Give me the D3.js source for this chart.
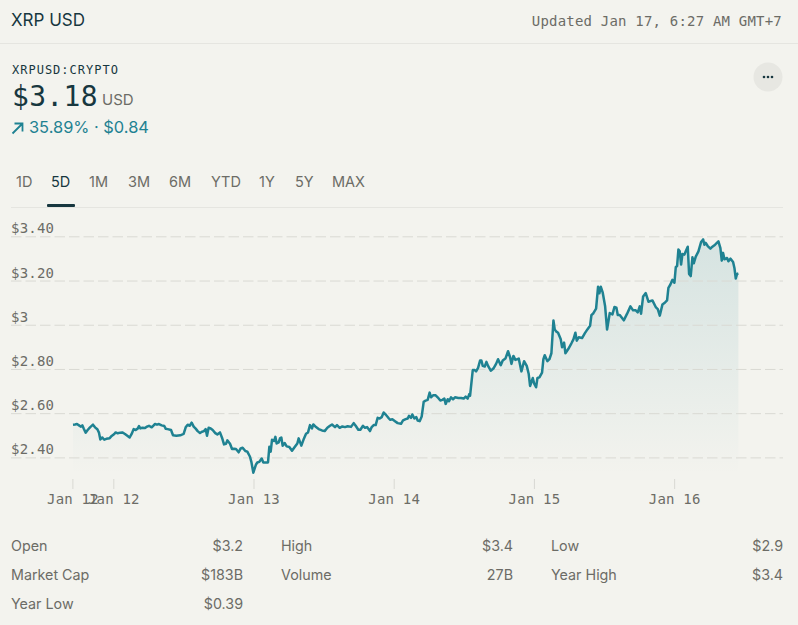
<!DOCTYPE html>
<html><head><meta charset="utf-8">
<script src="https://cdn.jsdelivr.net/npm/d3@7"></script>
<style>html,body{margin:0;padding:0;background:#f3f3ee;overflow:hidden}svg{display:block}
.sans{font-family:Inter,"Noto Sans",sans-serif}.mono{font-family:"DejaVu Sans Mono",monospace}</style>
</head><body><div id="c"></div>
<script>
const hours=[-6.90,-6.56,-6.22,-5.87,-5.53,-5.30,-5.07,-4.73,-4.39,-3.99,-3.48,-3.13,-2.73,-2.45,-2.22,-1.88,-1.54,-1.19,-0.62,-0.28,0.17,0.40,0.75,1.20,1.54,2.00,2.46,2.80,3.14,3.48,3.83,4.17,4.40,4.63,4.97,5.42,5.77,6.11,6.57,6.91,7.14,7.48,7.82,8.28,8.73,8.96,9.30,9.88,10.22,10.79,11.47,12.04,12.39,12.73,13.07,13.41,13.76,14.10,14.44,
14.84,15.18,15.52,15.81,16.04,16.32,16.67,17.01,17.46,17.81,18.26,18.61,18.95,19.29,19.52,19.98,20.32,20.66,21.00,21.46,21.80,22.14,22.60,22.94,23.40,23.63,23.97,24.43,24.65,25.0,25.4,25.68,26.48,26.71,26.94,27.17,27.51,27.74,27.96,28.31,28.53,28.76,28.99,29.33,29.68,30.13,30.59,31.05,31.50,31.73,32.19,32.64,32.99,33.33,33.67,34.01,34.24,34.70,35.15,35.72,36.18,36.64,37.09,37.44,
37.95,38.29,38.75,39.21,39.66,40.12,40.69,41.15,41.49,41.94,42.29,42.74,43.09,43.43,43.94,44.23,44.57,44.91,45.25,45.60,45.94,46.28,46.62,47.08,47.42,47.76,48.22,48.68,49.25,49.59,50.05,50.39,50.62,50.96,51.19,51.53,51.87,52.10,52.44,52.79,53.13,53.47,53.81,54.15,54.38,54.73,55.18,55.52,55.98,56.32,56.67,56.89,57.24,57.47,57.81,58.15,58.49,59.06,59.52,59.98,60.32,60.66,60.95,
61.07,61.53,61.87,62.10,62.44,62.78,63.01,63.24,63.58,63.87,64.15,64.61,65.06,65.52,65.86,66.32,66.66,67.12,67.57,67.92,68.15,68.49,68.83,69.40,69.86,70.31,70.77,71.11,71.34,71.80,72.03,72.37,72.60,72.94,73.39,73.62,73.85,74.31,74.65,74.99,75.34,75.56,75.79,76.13,76.59,76.82,77.16,77.39,77.85,78.42,78.76,79.10,79.33,79.67,80.24,80.70,81.15,81.61,81.84,82.18,82.64,82.98,83.21,83.44,83.78,
84.18,84.52,84.98,85.44,85.78,86.12,86.35,86.69,87.38,87.95,88.52,88.97,89.43,89.77,90.11,90.34,90.69,91.14,91.60,92.28,92.85,93.20,93.54,94.0,94.45,94.79,95.02,95.36,95.71,96.05,96.28,96.51,96.73,96.96,97.19,97.42,97.76,97.99,98.33,98.56,98.84,99.13,99.36,99.70,100.16,100.61,100.96,101.18,101.41,101.75,102.21,102.55,103.01,103.58,103.92,104.15,104.38,104.61,105.06,105.29,105.63,106.09,106.32,106.55,106.77,107.0];
const prices=[2.548,2.549,2.551,2.545,2.539,2.545,2.531,2.512,2.524,2.536,2.548,2.536,2.527,2.512,2.481,2.490,2.480,2.484,2.487,2.497,2.506,2.513,2.509,2.512,2.513,2.506,2.497,2.490,2.506,2.528,2.524,2.530,2.542,2.531,2.534,2.533,2.539,2.543,2.536,2.545,2.551,2.548,2.551,2.545,2.542,2.530,2.528,2.524,2.500,2.498,2.500,2.506,2.536,2.548,2.543,2.557,2.539,2.530,2.519,
2.510,2.516,2.519,2.528,2.498,2.534,2.531,2.524,2.510,2.504,2.513,2.489,2.459,2.462,2.477,2.462,2.438,2.439,2.438,2.423,2.441,2.444,2.429,2.426,2.403,2.380,2.331,2.368,2.377,2.380,2.395,2.377,2.377,2.448,2.426,2.480,2.474,2.493,2.463,2.468,2.486,2.490,2.453,2.465,2.450,2.447,2.430,2.447,2.463,2.486,2.453,2.486,2.507,2.513,2.546,2.531,2.549,2.537,2.528,2.522,2.519,2.534,2.543,2.549,
2.537,2.546,2.534,2.540,2.537,2.541,2.538,2.555,2.543,2.525,2.525,2.543,2.534,2.537,2.519,2.537,2.546,2.546,2.579,2.576,2.582,2.603,2.594,2.579,2.570,2.573,2.564,2.555,2.552,2.567,2.573,2.576,2.588,2.579,2.594,2.576,2.582,2.567,2.564,2.585,2.651,2.657,2.660,2.693,2.672,2.681,2.681,2.672,2.657,2.660,2.666,2.642,2.663,2.654,2.672,2.663,2.672,2.669,2.669,2.666,2.675,2.666,2.687,
2.679,2.795,2.795,2.789,2.805,2.838,2.838,2.814,2.811,2.832,2.814,2.792,2.802,2.823,2.844,2.817,2.838,2.847,2.880,2.853,2.823,2.859,2.841,2.847,2.789,2.835,2.814,2.777,2.723,2.759,2.735,2.717,2.759,2.762,2.783,2.844,2.862,2.835,2.844,2.871,3.019,2.979,2.970,2.964,2.934,2.898,2.919,2.871,2.889,2.916,2.934,2.964,2.928,2.943,2.940,2.961,2.979,2.995,3.043,3.052,3.073,3.172,3.142,3.172,3.145,
3.085,2.978,3.053,3.047,3.080,3.077,3.044,3.044,3.020,3.050,3.083,3.065,3.065,3.056,3.083,3.050,3.128,3.143,3.104,3.110,3.080,3.071,3.041,3.092,3.101,3.110,3.167,3.182,3.203,3.190,3.260,3.266,3.340,3.332,3.272,3.320,3.317,3.332,3.353,3.230,3.220,3.305,3.278,3.308,3.332,3.374,3.386,3.362,3.370,3.356,3.344,3.353,3.362,3.377,3.347,3.290,3.325,3.296,3.302,3.287,3.299,3.284,3.257,3.209,3.230,3.232];
const yTickValues=[3.4,3.2,3.0,2.8,2.6,2.4];
const yTickLabels=["$3.40","$3.20","$3","$2.80","$2.60","$2.40"];
const xTickHours=[-7,0,24,48,72,96];
const xTickLabels=["Jan 12","Jan 12","Jan 13","Jan 14","Jan 15","Jan 16"];
const ranges=["1D","5D","1M","3M","6M","YTD","1Y","5Y","MAX"];
const rangeX=[16,51,89,128,169,211,259,295,332];
const statRows=[["Open","$3.2","High","$3.4","Low","$2.9"],["Market Cap","$183B","Volume","27B","Year High","$3.4"],["Year Low","$0.39"]];

const W=798,H=625,dark="#17373f",grey="#6c6c66",teal="#1f8292";
const svg=d3.select("#c").append("svg").attr("width",W).attr("height",H).attr("viewBox",`0 0 ${W} ${H}`);
const T=(x,y,s,size,fill,cls,anchor,ls,weight)=>svg.append("text").attr("x",x).attr("y",y).text(s).attr("class",cls||"sans")
  .attr("font-size",size).attr("fill",fill).attr("text-anchor",anchor||"start").attr("letter-spacing",ls||0).attr("font-weight",weight||400);

T(11,26,"XRP USD",17,dark);
T(782,26,"Updated Jan 17, 6:27 AM GMT+7",14,grey,"mono","end",0.2);
svg.append("rect").attr("x",0).attr("y",43).attr("width",W).attr("height",1).attr("fill","#e5e5e0");
T(12,74,"XRPUSD:CRYPTO",12,dark,"mono","start",1);
T(12,106,"$3.18",28,dark,"mono","start",0.3);
T(102,105,"USD",15,grey);
svg.append("path").attr("d","M12.5 133.5L22 124M14.5 123.5H22.5V131.5").attr("fill","none").attr("stroke",teal).attr("stroke-width",1.8);
T(29,133,"35.89% · $0.84",16.4,teal);
const bx=768,by=77;
svg.append("circle").attr("cx",bx).attr("cy",by).attr("r",14.5).attr("fill","#e7e7e2");
[-4,0,4].forEach(d=>svg.append("circle").attr("cx",bx+d).attr("cy",by).attr("r",1.3).attr("fill",dark));
ranges.forEach((r,i)=>T(rangeX[i],187,r,14.5,i===1?dark:grey));
svg.append("rect").attr("x",11).attr("y",207).attr("width",772).attr("height",1).attr("fill","#e5e5e0");
svg.append("rect").attr("x",47).attr("y",204).attr("width",28).attr("height",3).attr("rx",1).attr("fill",dark);

const x=d3.scaleLinear().domain([0,107]).range([113.3,738.4]);
const y=d3.scaleLinear().domain([2.4,3.4]).range([457.4,236.3]);
const data=hours.map((h,i)=>({h,p:prices[i]}));

const grad=svg.append("defs").append("linearGradient").attr("id","g").attr("gradientUnits","userSpaceOnUse")
  .attr("x1",0).attr("x2",0).attr("y1",236).attr("y2",475);
grad.append("stop").attr("offset",0).attr("stop-color",teal).attr("stop-opacity",0.14);
grad.append("stop").attr("offset",1).attr("stop-color",teal).attr("stop-opacity",0);
svg.append("path").datum(data).attr("fill","url(#g)")
  .attr("d",d3.area().x(d=>x(d.h)).y0(475).y1(d=>y(d.p)));

const gy=svg.append("g").call(d3.axisRight(y).tickValues(yTickValues).tickFormat((d,i)=>yTickLabels[i]).tickSize(772));
gy.attr("transform","translate(11,0)");
gy.select(".domain").remove();
gy.selectAll(".tick line").attr("stroke","#d9d9d3").attr("stroke-width",1).attr("stroke-dasharray","10.5 4");
gy.selectAll(".tick text").attr("x",0).attr("dy",-3.5).attr("text-anchor","start").attr("class","mono")
  .attr("font-size",14).attr("fill",grey).attr("letter-spacing",0.2).attr("font-family",null);

svg.append("path").datum(data).attr("fill","none").attr("stroke",teal).attr("stroke-width",2.5).attr("stroke-linejoin","round")
  .attr("d",d3.line().x(d=>x(d.h)).y(d=>y(d.p)));

const gx=svg.append("g").attr("transform","translate(0,479)")
  .call(d3.axisBottom(x).tickValues(xTickHours).tickFormat((d,i)=>xTickLabels[i]).tickSize(10).tickPadding(5));
gx.select(".domain").remove();
gx.selectAll(".tick line").attr("stroke","#d9d9d3");
gx.selectAll(".tick text").attr("class","mono").attr("font-size",14).attr("fill",grey).attr("letter-spacing",0.2).attr("font-family",null);

const labX=[11,281,551],valX=[243,513,783],rowY=[551,580,609];
statRows.forEach((row,r)=>{for(let c=0;c<row.length/2;c++){
  T(labX[c],rowY[r],row[c*2],14.3,grey);
  T(valX[c],rowY[r],row[c*2+1],14.3,grey,"sans","end");
}});
</script></body></html>
